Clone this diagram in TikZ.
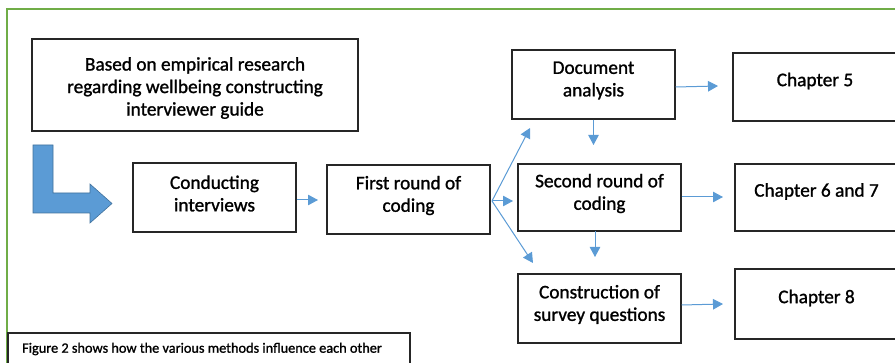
\documentclass[tikz,border=0pt]{standalone}
\usepackage{fontspec}
\setmainfont{Carlito}
\newfontfamily\semibold{Carlito}[FakeBold=1.2]
\usetikzlibrary{arrows.meta}
\definecolor{frameGreen}{HTML}{70AD47}
\definecolor{flowBlue}{HTML}{5B9BD5}
\definecolor{flowBlueDark}{HTML}{41719C}
\tikzset{
  boxshape/.style={draw=black!85, line width=1.2pt, inner sep=0pt},
  boxtext/.style={align=center, font=\semibold\fontsize{19.3}{22.5}\selectfont, inner sep=0pt},
  flow/.style={draw=flowBlue, line width=1pt, -{Triangle[length=10pt,width=10.5pt]}},
}
\begin{document}
\begin{tikzpicture}[x=1pt,y=-1pt]
\useasboundingbox (0,0) rectangle (895,363);
\clip (0,0) rectangle (895,363);
% outer frame
\draw[frameGreen, line width=1.5pt] (7,9) rectangle (905,375);
% boxes
\node[boxshape, minimum width=326pt, minimum height=92pt] (based) at (195,85) {};
\node[boxtext] (based-t) at ([yshift=-3pt]based.center) {Based on empirical research\\regarding wellbeing constructing\\interviewer guide};
\node[boxshape, minimum width=163pt, minimum height=69pt] (cond) at (214.5,197.5) {};
\node[boxtext] (cond-t) at ([yshift=4pt]cond.center) {Conducting\\interviews};
\node[boxshape, minimum width=163pt, minimum height=69pt] (first) at (408.5,199.5) {};
\node[boxtext] (first-t) at ([yshift=4pt]first.center) {First round of\\coding};
\node[boxshape, minimum width=163pt, minimum height=69pt] (doc) at (593.5,84.5) {};
\node[boxtext] (doc-t) at ([yshift=4pt]doc.center) {Document\\analysis};
\node[boxshape, minimum width=163pt, minimum height=67pt] (second) at (599.5,197.5) {};
\node[boxtext] (second-t) at ([yshift=4pt]second.center) {Second round of\\coding};
\node[boxshape, minimum width=163pt, minimum height=69pt] (cons) at (599.5,308.5) {};
\node[boxtext] (cons-t) at ([yshift=4pt]cons.center) {Construction of\\survey questions};
\node[boxshape, minimum width=164pt, minimum height=68pt] (ch5) at (815,87) {};
\node[boxtext] (ch5-t) at ([yshift=6pt]ch5.center) {Chapter 5};
\node[boxshape, minimum width=163pt, minimum height=67pt] (ch67) at (816.5,197.5) {};
\node[boxtext] (ch67-t) at ([yshift=6pt]ch67.center) {Chapter 6 and 7};
\node[boxshape, minimum width=163pt, minimum height=70pt] (ch8) at (816.5,304) {};
\node[boxtext] (ch8-t) at ([yshift=6pt]ch8.center) {Chapter 8};
% caption
\node[boxshape, minimum width=402pt, minimum height=40pt] (cap) at (209,353) {};
\node[anchor=west, inner sep=0pt, font=\semibold\fontsize{14.3}{16}\selectfont] (cap-t) at (22,349) {Figure 2 shows how the various methods influence each other};
% bent arrow
\draw[fill=flowBlue, draw=flowBlueDark, line width=0.6pt]
  (33,145) -- (53,145) -- (53,193) -- (90,193) -- (90,184) -- (112,203.5)
  -- (90,223) -- (90,213) -- (33,213) -- cycle;
% connectors
\coordinate (split) at (492,201);
\draw[flow] (cond.east |- 0,200) -- (318,200);
\draw[flow] (split) -- (530,128);
\draw[flow] (split) -- (513,201);
\draw[flow] (split) -- (533,263);
\draw[flow] (doc.east |- 0,87) -- (718,86);
\draw[flow] (doc.south) -- (593.5,145);
\draw[flow] (second.east |- 0,197) -- (723,197);
\draw[flow] (595,231) -- (595,257);
\draw[flow] (cons.east |- 0,305) -- (723,304);
\end{tikzpicture}
\end{document}
